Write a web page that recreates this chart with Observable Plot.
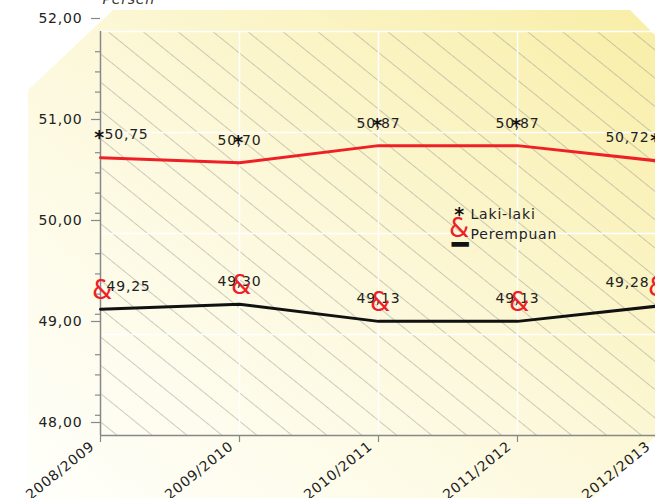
<!DOCTYPE html>
<html>
<head>
<meta charset="utf-8">
<script src="https://cdn.jsdelivr.net/npm/d3@7"></script>
<script src="https://cdn.jsdelivr.net/npm/@observablehq/plot@0.6"></script>
<style>
  html, body { margin: 0; padding: 0; background: #ffffff; }
  #chart svg { display: block; }
</style>
</head>
<body>
<div id="chart"></div>
<script>
const years = ["2008/2009", "2009/2010", "2010/2011", "2011/2012", "2012/2013"];
const lakiLaki = [50.75, 50.70, 50.87, 50.87, 50.72];
const perempuan = [49.25, 49.30, 49.13, 49.13, 49.28];
const yTicks = [48, 49, 50, 51, 52];
const yMinorTicks = [48.2, 48.4, 48.6, 48.8, 49.2, 49.4, 49.6, 49.8, 50.2, 50.4, 50.6, 50.8, 51.2, 51.4, 51.6, 51.8];
const legendLabels = ["Laki-laki", "Perempuan"];
const unitLabel = "Persen";

const data = years.map((year, i) => ({ year, i, laki: lakiLaki[i], perempuan: perempuan[i] }));
const last = years.length - 1;
const fmt = d => d.toFixed(2).replace(".", ",");
const FONT = "DejaVu Sans";
const LS = "0.8px";

const valueText = (key, extra) => [
  Plot.text(data, { filter: d => d.i === 0, x: "year", y: key, text: d => fmt(d[key]), textAnchor: "start", ...extra.first }),
  Plot.text(data, { filter: d => d.i > 0 && d.i < last, x: "year", y: key, text: d => fmt(d[key]), textAnchor: "middle", ...extra.mid }),
  Plot.text(data, { filter: d => d.i === last, x: "year", y: key, text: d => fmt(d[key]), textAnchor: "end", ...extra.last })
];

const plot = Plot.plot({
  width: 655,
  height: 498,
  marginTop: 31,
  marginBottom: 63,
  marginLeft: 100,
  marginRight: 0,
  style: { background: "transparent", fontFamily: FONT, fontSize: "14px", color: "#222", letterSpacing: LS },
  x: { type: "point", domain: years, range: [99.5, 656.5], padding: 0 },
  y: { domain: [48, 52], range: [435, 31] },
  marks: [
    Plot.frame({ fill: "url(#hatch)", stroke: null }),
    Plot.gridY(yTicks.slice(1), { stroke: "#ffffff", strokeOpacity: 1, strokeWidth: 1.5 }),
    Plot.gridX(years, { stroke: "#ffffff", strokeOpacity: 1, strokeWidth: 1.5 }),
    Plot.ruleX([years[0]], { stroke: "#888", strokeWidth: 1.5 }),
    Plot.ruleY([48], { stroke: "#888", strokeWidth: 1.5 }),
    Plot.axisY(yMinorTicks, { tickSize: 5, tickFormat: () => "", stroke: "#888", strokeWidth: 1.2 }),
    Plot.axisY(yTicks, { tickSize: 9, tickPadding: 9, tickFormat: fmt, dy: -13, stroke: "#888", strokeWidth: 1.2, fill: "#222", label: null, fontSize: 14 }),
    Plot.axisX(years, { tickSize: 7, tickFormat: () => "", stroke: "#888", strokeWidth: 1.2, label: null }),
    // rotated x labels
    Plot.text(years, { x: d => d, frameAnchor: "bottom", text: d => d, rotate: -39, textAnchor: "end", lineAnchor: "middle", dx: -8, dy: 9, fill: "#222", fontSize: 14 }),
    Plot.lineY(data, { x: "year", y: "laki", stroke: "#ee2026", strokeWidth: 3 }),
    Plot.lineY(data, { x: "year", y: "perempuan", stroke: "#111", strokeWidth: 3 }),
    // asterisk markers for Laki-laki
    Plot.text(data, { x: "year", y: "laki", text: () => "*", dy: -20, dx: -1, fontSize: 19, fontWeight: "bold", fill: "#111" }),
    ...valueText("laki", {
      first: { dy: -23, dx: 4, fill: "#222" },
      mid: { dy: -22, fill: "#222" },
      last: { dy: -23, dx: -7, fill: "#222" }
    }),
    ...valueText("perempuan", {
      first: { dy: -23, dx: 6, fill: "#222" },
      mid: { dy: -23, fill: "#222" },
      last: { dy: -24, dx: -7, fill: "#222" }
    }),
    // ampersand markers for Perempuan
    Plot.text(data, { x: "year", y: "perempuan", text: () => "&", dy: -19, dx: 2, fontSize: 26, fill: "#ee2026" }),
    // legend
    Plot.text(["*"], { frameAnchor: "top-left", dx: 359, dy: 176, fontSize: 19, fontWeight: "bold", fill: "#111", textAnchor: "middle" }),
    Plot.text([legendLabels[0]], { frameAnchor: "top-left", dx: 370, dy: 183, fill: "#222", textAnchor: "start", lineAnchor: "middle" }),
    Plot.text(["&"], { frameAnchor: "top-left", dx: 359, dy: 197, fontSize: 26, fill: "#ee2026", textAnchor: "middle", lineAnchor: "middle" }),
    Plot.text([legendLabels[1]], { frameAnchor: "top-left", dx: 370, dy: 203, fill: "#222", textAnchor: "start", lineAnchor: "middle" }),
    Plot.text(["━"], { frameAnchor: "top-left", dx: 360, dy: 214, fontSize: 28, fill: "#111", textAnchor: "middle", lineAnchor: "middle" }),
    // unit label
    Plot.text([unitLabel], { frameAnchor: "top-left", dx: 2, dy: -32, fontStyle: "italic", fill: "#333", textAnchor: "start", lineAnchor: "middle" })
  ]
});

// background and hatch definitions
const svg = d3.select(plot);
const defs = svg.insert("defs", ":first-child");
const grad = defs.append("linearGradient").attr("id", "bgGrad")
  .attr("x1", 0).attr("y1", 1).attr("x2", 1).attr("y2", 0);
grad.append("stop").attr("offset", "0").attr("stop-color", "#fffffb");
grad.append("stop").attr("offset", "0.45").attr("stop-color", "#fdf9df");
grad.append("stop").attr("offset", "1").attr("stop-color", "#f8eea6");
const pat = defs.append("pattern").attr("id", "hatch")
  .attr("patternUnits", "userSpaceOnUse").attr("width", 10).attr("height", 22)
  .attr("patternTransform", "rotate(39)");
pat.append("line").attr("x1", 0).attr("y1", 0.5).attr("x2", 10).attr("y2", 0.5)
  .attr("stroke", "#9a9a90").attr("stroke-width", 0.5);
const bgPoly = [[28, 90], [113, 10], [630, 10], [656, 36], [656, 436], [594, 498], [28, 498]];
svg.insert("polygon", "defs + *")
  .attr("points", bgPoly.map(p => p.join(",")).join(" "))
  .attr("fill", "url(#bgGrad)");

document.getElementById("chart").appendChild(plot);
</script>
</body>
</html>
